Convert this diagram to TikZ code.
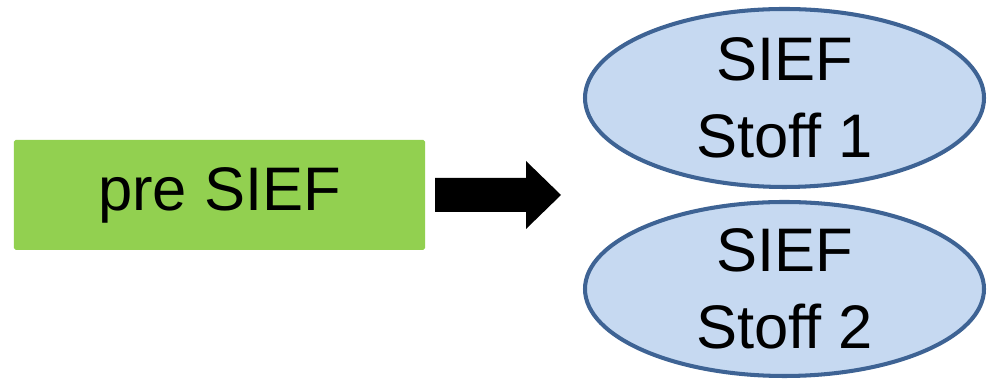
\documentclass[tikz,border=0pt]{standalone}
\usepackage{fontspec}
\setmainfont{Liberation Sans}
\usetikzlibrary{positioning,shapes.geometric}
\definecolor{preGreen}{HTML}{92D050}
\definecolor{siefFill}{HTML}{C6D9F1}
\definecolor{siefLine}{HTML}{3E6394}
\tikzset{
  prebox/.style={rectangle, rounded corners=1pt, fill=preGreen,
    minimum width=8.22cm, minimum height=2.2cm,
    font=\fontsize{35}{42}\selectfont},
  siefblob/.style={ellipse, draw=siefLine, line width=2.3pt, fill=siefFill,
    minimum width=7.98cm, minimum height=3.56cm, inner sep=0pt,
    align=center, font=\fontsize{35}{44}\selectfont}
}
\begin{document}
\begin{tikzpicture}
  \useasboundingbox (0,0) rectangle (19.74,7.6);
  \node[prebox] (pre) at (4.39, 3.7) {pre SIEF};

  % block arrow
  \fill (8.7, 4.04) -- (10.52, 4.04) -- (10.52, 4.38) -- (11.22, 3.7)
    -- (10.52, 3.02) -- (10.52, 3.36) -- (8.7, 3.36) -- cycle;

  \node[siefblob] (stoff1) at (15.69, 5.64) {SIEF\\Stoff 1};
  \node[siefblob, minimum height=3.48cm] (stoff2) at (15.69, 1.82) {SIEF\\Stoff 2};
\end{tikzpicture}
\end{document}
